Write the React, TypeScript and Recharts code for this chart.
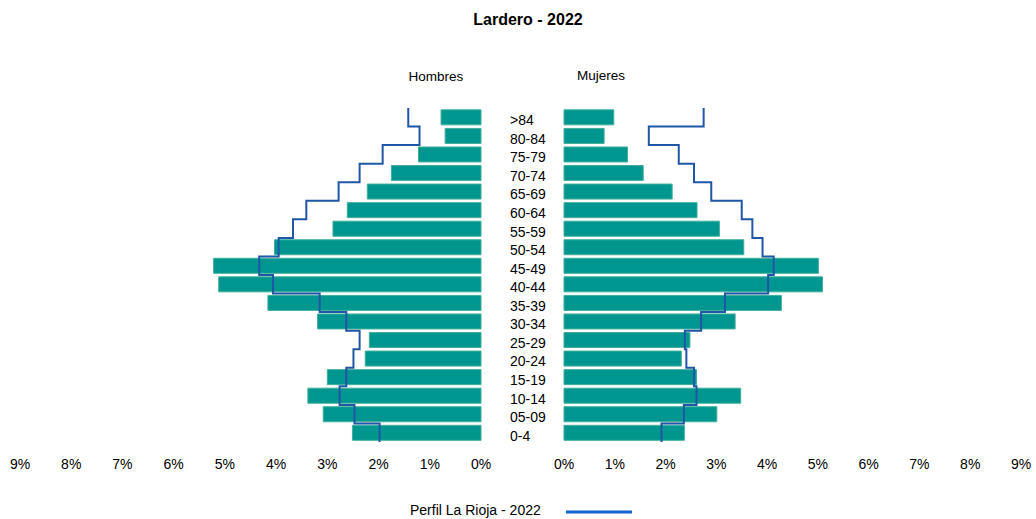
import React from 'react';
import { ComposedChart, Bar, Line, XAxis, YAxis } from 'recharts';

const ageGroups = ['>84', '80-84', '75-79', '70-74', '65-69', '60-64', '55-59', '50-54', '45-49', '40-44', '35-39', '30-34', '25-29', '20-24', '15-19', '10-14', '05-09', '0-4'];

// Lardero, % of total population
const hombres = [0.78, 0.70, 1.22, 1.75, 2.22, 2.61, 2.89, 4.03, 5.22, 5.12, 4.16, 3.19, 2.18, 2.26, 3.00, 3.38, 3.08, 2.51];
const mujeres = [0.98, 0.79, 1.25, 1.56, 2.13, 2.62, 3.06, 3.54, 5.01, 5.09, 4.28, 3.37, 2.48, 2.31, 2.61, 3.48, 3.01, 2.37];

// La Rioja profile
const riojaHombres = [1.42, 1.20, 1.92, 2.37, 2.78, 3.41, 3.67, 3.95, 4.33, 4.06, 3.15, 2.63, 2.37, 2.49, 2.63, 2.76, 2.47, 1.98];
const riojaMujeres = [2.75, 1.67, 2.26, 2.56, 2.90, 3.50, 3.71, 3.91, 4.13, 4.02, 3.17, 2.70, 2.38, 2.41, 2.56, 2.61, 2.36, 1.92];

const pctTicks = [0, 1, 2, 3, 4, 5, 6, 7, 8, 9];

const hombresData = ageGroups.map((age, i) => ({ age, value: hombres[i], rioja: riojaHombres[i] }));
const mujeresData = ageGroups.map((age, i) => ({ age, value: mujeres[i], rioja: riojaMujeres[i] }));

const BAR_COLOR = '#009690';
const BAR_STROKE = '#3fae98';
const LINE_COLOR = '#1f56a6';
const FONT = 'Arial, "Liberation Sans", sans-serif';

// step curve running along the y direction: vertical over each band, horizontal at band edges
const stepY = (context: any) => {
  let pts: [number, number][] = [];
  return {
    areaStart() {},
    areaEnd() {},
    lineStart() {
      pts = [];
    },
    lineEnd() {
      if (!pts.length) return;
      const h = pts.length > 1 ? (pts[1][1] - pts[0][1]) / 2 : 0;
      context.moveTo(pts[0][0], pts[0][1] - h);
      for (let i = 0; i < pts.length; i++) {
        const [x, y] = pts[i];
        const next = pts[i + 1];
        const yEnd = next ? (y + next[1]) / 2 : y + h;
        context.lineTo(x, yEnd);
        if (next) context.lineTo(next[0], yEnd);
      }
    },
    point(x: number, y: number) {
      pts.push([x, y]);
    },
  };
};

const tickStyle = { fontSize: 14, fill: '#000', fontFamily: FONT };

export default function App() {
  return (
    <div style={{ position: 'relative', width: 1036, height: 519, background: '#fff', fontFamily: FONT }}>
      <style>{'body { margin: 0; }'}</style>
      <div style={{ position: 'absolute', top: 11, left: 0, width: 1056, textAlign: 'center', fontWeight: 'bold', fontSize: 16 }}>
        Lardero - 2022
      </div>
      <div style={{ position: 'absolute', top: 69, left: 386, width: 100, textAlign: 'center', fontSize: 13.5 }}>Hombres</div>
      <div style={{ position: 'absolute', top: 68, left: 551, width: 100, textAlign: 'center', fontSize: 13.5 }}>Mujeres</div>

      <div style={{ position: 'absolute', top: 0, left: 0 }}>
        <ComposedChart width={564} height={472} data={hombresData} layout="vertical" margin={{ top: 108, right: 0, bottom: 0, left: 20 }} barCategoryGap="10%">
          <XAxis
            type="number"
            domain={[0, 9]}
            ticks={pctTicks}
            reversed
            tickFormatter={(v) => `${v}%`}
            axisLine={false}
            tickLine={false}
            tickSize={0}
            tickMargin={17}
            height={30}
            tick={tickStyle}
            interval={0}
          />
          <YAxis
            type="category"
            dataKey="age"
            orientation="right"
            width={83}
            axisLine={false}
            tickLine={false}
            tickSize={0}
            tickMargin={0}
            interval={0}
            tick={{ ...tickStyle, textAnchor: 'start', dx: 29, dy: 3 }}
          />
          <Bar dataKey="value" fill={BAR_COLOR} stroke={BAR_STROKE} strokeWidth={1} isAnimationActive={false} />
          <Line dataKey="rioja" type={stepY as any} stroke={LINE_COLOR} strokeWidth={2} dot={false} isAnimationActive={false} />
        </ComposedChart>
      </div>

      <div style={{ position: 'absolute', top: 0, left: 544 }}>
        <ComposedChart width={492} height={472} data={mujeresData} layout="vertical" margin={{ top: 108, right: 15, bottom: 0, left: 20 }} barCategoryGap="10%">
          <XAxis
            type="number"
            domain={[0, 9]}
            ticks={pctTicks}
            tickFormatter={(v) => `${v}%`}
            axisLine={false}
            tickLine={false}
            tickSize={0}
            tickMargin={17}
            height={30}
            tick={tickStyle}
            interval={0}
          />
          <YAxis type="category" dataKey="age" hide />
          <Bar dataKey="value" fill={BAR_COLOR} stroke={BAR_STROKE} strokeWidth={1} isAnimationActive={false} />
          <Line dataKey="rioja" type={stepY as any} stroke={LINE_COLOR} strokeWidth={2} dot={false} isAnimationActive={false} />
        </ComposedChart>
      </div>

      <div style={{ position: 'absolute', top: 502, left: 410, fontSize: 14, whiteSpace: 'nowrap' }}>Perfil La Rioja - 2022</div>
      <svg width={70} height={10} style={{ position: 'absolute', left: 564, top: 507 }}>
        <line x1={2} x2={68} y1={5} y2={5} stroke="#1565d0" strokeWidth={3} />
      </svg>
    </div>
  );
}
